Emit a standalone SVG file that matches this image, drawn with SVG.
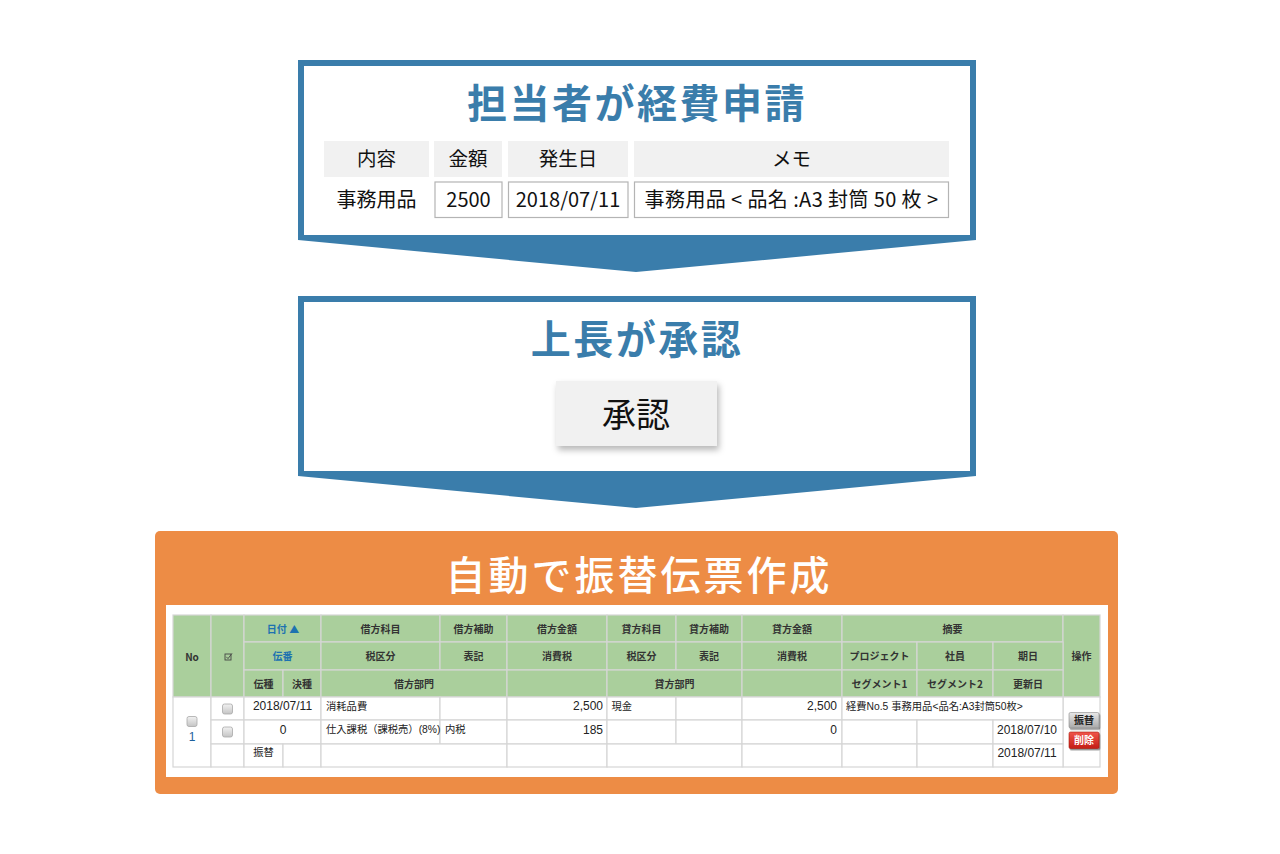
<svg xmlns="http://www.w3.org/2000/svg" width="1280" height="854" viewBox="0 0 1280 854">
<defs>
<style>
.blue{fill:#3a7dab}
.title{font-family:"Noto Sans CJK JP",sans-serif;font-weight:700;font-size:40px;letter-spacing:2.5px;fill:#3a7dab;text-anchor:middle}
.otitle{font-family:"Noto Sans CJK JP",sans-serif;font-weight:500;font-size:40px;letter-spacing:3px;fill:#fff;text-anchor:middle}
.fh{fill:#f1f1f1}
.fb{fill:#fff;stroke:#b4b4b4;stroke-width:1.2}
.ft{font-family:"Noto Sans CJK JP",sans-serif;font-size:19.5px;fill:#111;text-anchor:middle}
.fd{font-size:20px}
.hc{fill:#aacf9c;stroke:#d6d6d6;stroke-width:1.2}
.dc{fill:#fff;stroke:#d6d6d6;stroke-width:1.2}
.ht{font-family:"Noto Sans CJK JP",sans-serif;font-weight:700;font-size:10px;fill:#333;text-anchor:middle}
.hb{fill:#1d72b0}
.dt{font-family:"Liberation Sans","Noto Sans CJK JP",sans-serif;font-size:10.3px;fill:#222}
.num{font-family:"Liberation Sans","Noto Sans CJK JP",sans-serif;font-size:12px;fill:#222}
.mid{text-anchor:middle}
.end{text-anchor:end}
.cb{fill:url(#cbg);stroke:#a8a8a8;stroke-width:0.8}
</style>
<linearGradient id="cbg" x1="0" y1="0" x2="0" y2="1"><stop offset="0" stop-color="#f2f2f2"/><stop offset="1" stop-color="#c4c4c4"/></linearGradient>
<linearGradient id="gbtn" x1="0" y1="0" x2="0" y2="1"><stop offset="0" stop-color="#e8e8e8"/><stop offset="1" stop-color="#a9a9a9"/></linearGradient>
<linearGradient id="rbtn" x1="0" y1="0" x2="0" y2="1"><stop offset="0" stop-color="#f0564a"/><stop offset="1" stop-color="#c41d16"/></linearGradient>
<filter id="sh" x="-20%" y="-30%" width="140%" height="170%"><feDropShadow dx="2" dy="4" stdDeviation="3" flood-color="#000" flood-opacity="0.28"/></filter>
<filter id="bsh" x="-20%" y="-30%" width="150%" height="170%"><feDropShadow dx="1" dy="1.5" stdDeviation="0.6" flood-color="#000" flood-opacity="0.45"/></filter>
</defs>
<rect width="1280" height="854" fill="#fff"/>

<g id="step1">
<path class="blue" d="M298,60 H976 V240 L636,272 L298,240 Z"/>
<rect x="304" y="66" width="666" height="169" fill="#fff"/>
<text class="title" x="637" y="118">担当者が経費申請</text>
<rect class="fh" x="324" y="141" width="105" height="36"/>
<rect class="fh" x="434" y="141" width="68" height="36"/>
<rect class="fh" x="508" y="141" width="120" height="36"/>
<rect class="fh" x="634" y="141" width="315" height="36"/>
<text class="ft" x="376.5" y="166">内容</text>
<text class="ft" x="468" y="166">金額</text>
<text class="ft" x="568" y="166">発生日</text>
<text class="ft" x="791.5" y="166">メモ</text>
<rect class="fb" x="435" y="182" width="67" height="35.5"/>
<rect class="fb" x="508.5" y="182" width="119.5" height="35.5"/>
<rect class="fb" x="634.5" y="182" width="314" height="35.5"/>
<text class="ft fd" x="376.5" y="207">事務用品</text>
<text class="ft fd" x="468.5" y="207">2500</text>
<text class="ft fd" x="568" y="207">2018/07/11</text>
<text class="ft fd" x="791.5" y="207" letter-spacing="0.4">事務用品 &lt; 品名 :A3 封筒 50 枚 &gt;</text>
</g>

<g id="step2">
<path class="blue" d="M298,296 H976 V476 L636,508 L298,476 Z"/>
<rect x="304" y="302" width="666" height="169" fill="#fff"/>
<text class="title" x="637" y="354">上長が承認</text>
<g id="approve-button">
<rect x="556" y="381" width="161" height="65" fill="#f1f1f1" filter="url(#sh)"/>
<text x="636" y="427" font-family="Noto Sans CJK JP, sans-serif" font-weight="400" font-size="34" fill="#111" text-anchor="middle">承認</text>
</g>
</g>

<g id="step3">
<rect x="155" y="531" width="963" height="263" rx="5" fill="#ed8c45"/>
<text class="otitle" x="639" y="590">自動で振替伝票作成</text>
<rect x="166" y="605" width="942" height="172" fill="#fff"/>

<g id="table-header">
<rect class="hc" x="173" y="615" width="38" height="82"/>
<rect class="hc" x="211" y="615" width="33" height="82"/>
<rect class="hc" x="244" y="615" width="77" height="27"/>
<rect class="hc" x="321" y="615" width="119" height="27"/>
<rect class="hc" x="440" y="615" width="67" height="27"/>
<rect class="hc" x="507" y="615" width="100" height="27"/>
<rect class="hc" x="607" y="615" width="69" height="27"/>
<rect class="hc" x="676" y="615" width="66" height="27"/>
<rect class="hc" x="742" y="615" width="100" height="27"/>
<rect class="hc" x="842" y="615" width="221" height="27"/>
<rect class="hc" x="1063" y="615" width="37" height="82"/>

<rect class="hc" x="244" y="642" width="77" height="28"/>
<rect class="hc" x="321" y="642" width="119" height="28"/>
<rect class="hc" x="440" y="642" width="67" height="28"/>
<rect class="hc" x="507" y="642" width="100" height="28"/>
<rect class="hc" x="607" y="642" width="69" height="28"/>
<rect class="hc" x="676" y="642" width="66" height="28"/>
<rect class="hc" x="742" y="642" width="100" height="28"/>
<rect class="hc" x="842" y="642" width="75" height="28"/>
<rect class="hc" x="917" y="642" width="76" height="28"/>
<rect class="hc" x="993" y="642" width="70" height="28"/>

<rect class="hc" x="244" y="670" width="39" height="27"/>
<rect class="hc" x="283" y="670" width="38" height="27"/>
<rect class="hc" x="321" y="670" width="186" height="27"/>
<rect class="hc" x="507" y="670" width="100" height="27"/>
<rect class="hc" x="607" y="670" width="135" height="27"/>
<rect class="hc" x="742" y="670" width="100" height="27"/>
<rect class="hc" x="842" y="670" width="75" height="27"/>
<rect class="hc" x="917" y="670" width="76" height="27"/>
<rect class="hc" x="993" y="670" width="70" height="27"/>

<text class="ht" x="192" y="661" font-family="Liberation Sans, sans-serif" font-size="11.5">No</text>
<rect x="225" y="654" width="6" height="6" fill="none" stroke="#444" stroke-width="0.9"/>
<path d="M226.3,656.8 L228,658.6 L232,653.4" fill="none" stroke="#444" stroke-width="0.9"/>
<text class="ht hb" x="283" y="632.5">日付 ▲</text>
<text class="ht" x="380.5" y="632.5">借方科目</text>
<text class="ht" x="473.5" y="632.5">借方補助</text>
<text class="ht" x="557" y="632.5">借方金額</text>
<text class="ht" x="641.5" y="632.5">貸方科目</text>
<text class="ht" x="709" y="632.5">貸方補助</text>
<text class="ht" x="792" y="632.5">貸方金額</text>
<text class="ht" x="952.5" y="632.5">摘要</text>
<text class="ht" x="1081.5" y="660">操作</text>

<text class="ht hb" x="282.5" y="660">伝番</text>
<text class="ht" x="380.5" y="660">税区分</text>
<text class="ht" x="473.5" y="660">表記</text>
<text class="ht" x="557" y="660">消費税</text>
<text class="ht" x="641.5" y="660">税区分</text>
<text class="ht" x="709" y="660">表記</text>
<text class="ht" x="792" y="660">消費税</text>
<text class="ht" x="879.5" y="660">プロジェクト</text>
<text class="ht" x="955" y="660">社員</text>
<text class="ht" x="1028" y="660">期日</text>

<text class="ht" x="263.5" y="687.5">伝種</text>
<text class="ht" x="302" y="687.5">決種</text>
<text class="ht" x="414" y="687.5">借方部門</text>
<text class="ht" x="674.5" y="687.5">貸方部門</text>
<text class="ht" x="879.5" y="687.5">セグメント1</text>
<text class="ht" x="955" y="687.5">セグメント2</text>
<text class="ht" x="1028" y="687.5">更新日</text>
</g>

<g id="table-body">
<rect class="dc" x="173" y="697" width="38" height="70"/>
<rect class="dc" x="211" y="697" width="33" height="23"/>
<rect class="dc" x="211" y="720" width="33" height="24"/>
<rect class="dc" x="211" y="744" width="33" height="23"/>
<rect class="dc" x="1063" y="697" width="37" height="70"/>

<rect class="dc" x="244" y="697" width="77" height="23"/>
<rect class="dc" x="321" y="697" width="119" height="23"/>
<rect class="dc" x="440" y="697" width="67" height="23"/>
<rect class="dc" x="507" y="697" width="100" height="23"/>
<rect class="dc" x="607" y="697" width="69" height="23"/>
<rect class="dc" x="676" y="697" width="66" height="23"/>
<rect class="dc" x="742" y="697" width="100" height="23"/>
<rect class="dc" x="842" y="697" width="221" height="23"/>

<rect class="dc" x="244" y="720" width="77" height="24"/>
<rect class="dc" x="321" y="720" width="119" height="24"/>
<rect class="dc" x="440" y="720" width="67" height="24"/>
<rect class="dc" x="507" y="720" width="100" height="24"/>
<rect class="dc" x="607" y="720" width="69" height="24"/>
<rect class="dc" x="676" y="720" width="66" height="24"/>
<rect class="dc" x="742" y="720" width="100" height="24"/>
<rect class="dc" x="842" y="720" width="75" height="24"/>
<rect class="dc" x="917" y="720" width="76" height="24"/>
<rect class="dc" x="993" y="720" width="70" height="24"/>

<rect class="dc" x="244" y="744" width="39" height="23"/>
<rect class="dc" x="283" y="744" width="38" height="23"/>
<rect class="dc" x="321" y="744" width="186" height="23"/>
<rect class="dc" x="507" y="744" width="100" height="23"/>
<rect class="dc" x="607" y="744" width="135" height="23"/>
<rect class="dc" x="742" y="744" width="100" height="23"/>
<rect class="dc" x="842" y="744" width="75" height="23"/>
<rect class="dc" x="917" y="744" width="76" height="23"/>
<rect class="dc" x="993" y="744" width="70" height="23"/>

<rect class="cb" x="187" y="716.5" width="10" height="10" rx="2"/>
<text class="num mid" x="192" y="741" style="fill:#1d5f9c" font-size="11">1</text>
<rect class="cb" x="222.5" y="704" width="10" height="10" rx="2"/>
<rect class="cb" x="222.5" y="727" width="10" height="10" rx="2"/>

<text class="num mid" x="282.5" y="710">2018/07/11</text>
<text class="dt" x="326" y="709.5">消耗品費</text>
<text class="num end" x="603" y="710">2,500</text>
<text class="dt" x="611.5" y="709.5">現金</text>
<text class="num end" x="837" y="710">2,500</text>
<text class="dt" x="846" y="709.5">経費No.5 事務用品&lt;品名:A3封筒50枚&gt;</text>

<text class="num mid" x="283" y="733.5">0</text>
<text class="dt" x="326" y="733">仕入課税（課税売）(8%)</text>
<text class="dt" x="445" y="733">内税</text>
<text class="num end" x="603" y="733.5">185</text>
<text class="num end" x="837" y="733.5">0</text>
<text class="num mid" x="1027" y="733.5">2018/07/10</text>

<text class="dt mid" x="263.5" y="756">振替</text>
<text class="num mid" x="1027" y="756.5">2018/07/11</text>

<g id="btn-furikae">
<rect x="1069" y="712.5" width="30" height="15.5" rx="1.5" fill="url(#gbtn)" stroke="#8a8a8a" stroke-width="0.6" filter="url(#bsh)"/>
<text x="1084" y="724.3" font-family="Noto Sans CJK JP, sans-serif" font-weight="700" font-size="10" fill="#222" text-anchor="middle">振替</text>
</g>
<g id="btn-sakujo">
<rect x="1069" y="732" width="30" height="16.5" rx="1.5" fill="url(#rbtn)" stroke="#a51812" stroke-width="0.6" filter="url(#bsh)"/>
<text x="1084" y="744.3" font-family="Noto Sans CJK JP, sans-serif" font-weight="700" font-size="10" fill="#fff" text-anchor="middle">削除</text>
</g>
</g>
</g>
</svg>
